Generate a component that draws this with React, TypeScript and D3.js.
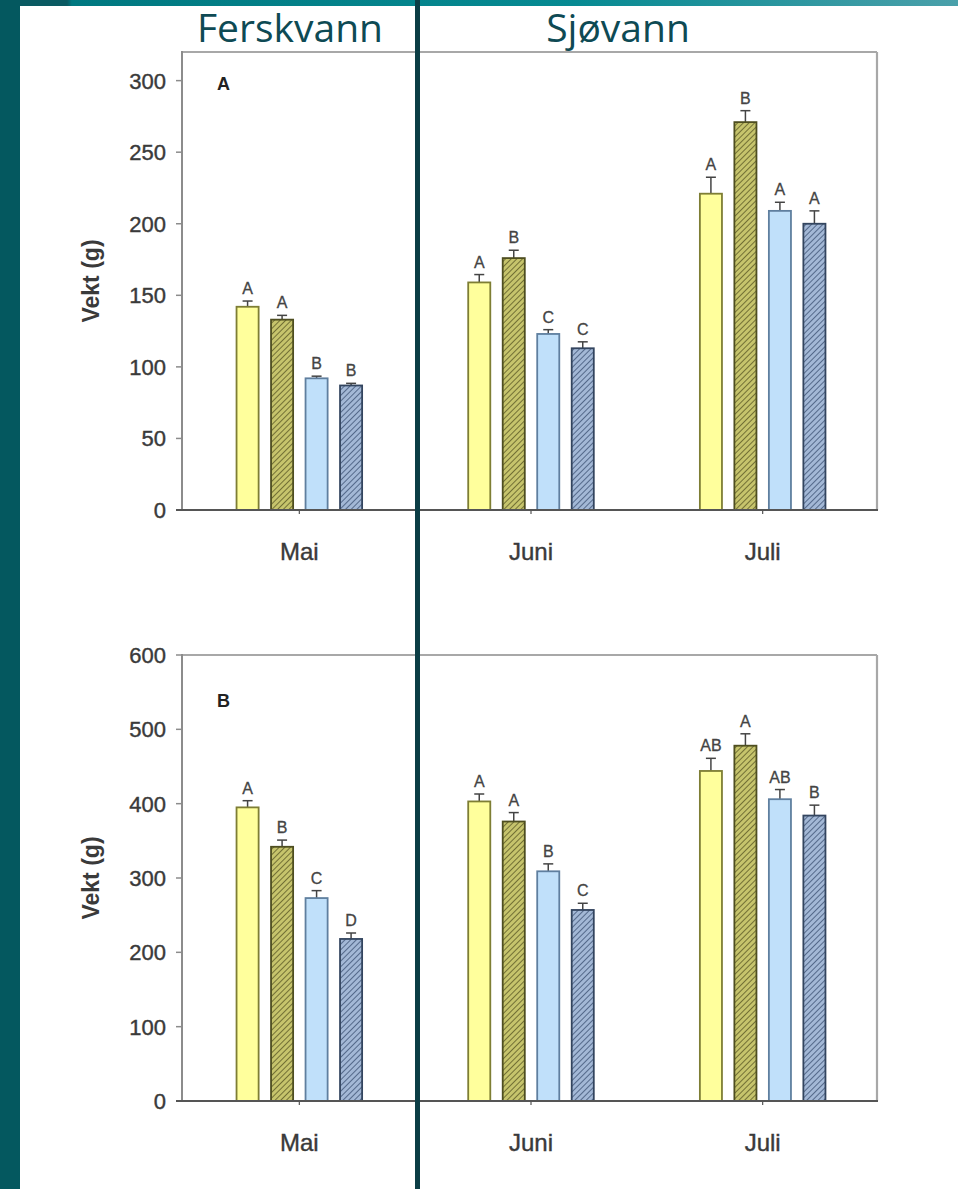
import React from "react";
import * as d3 from "d3";

const months = ["Mai", "Juni", "Juli"];
const seriesKeys = ["s1", "s2", "s3", "s4"];

// Panel A
const panelAValues = [
  [142, 133, 92, 87],
  [159, 176, 123, 113],
  [221, 271, 209, 200],
];
const panelAErrors = [
  [4, 3, 1.5, 1.5],
  [5.5, 5.5, 3, 4.5],
  [11.5, 8, 6, 9],
];
const panelALetters = [
  ["A", "A", "B", "B"],
  ["A", "B", "C", "C"],
  ["A", "B", "A", "A"],
];
const panelATicks = [0, 50, 100, 150, 200, 250, 300];

// Panel B
const panelBValues = [
  [395, 342, 273, 218],
  [403, 376, 309, 257],
  [444, 478, 406, 384],
];
const panelBErrors = [
  [9, 9, 10, 8],
  [10, 12, 10, 9],
  [17, 16, 13, 14],
];
const panelBLetters = [
  ["A", "B", "C", "D"],
  ["A", "A", "B", "C"],
  ["AB", "A", "AB", "B"],
];
const panelBTicks = [0, 100, 200, 300, 400, 500, 600];

const seriesFill = ["#ffff9c", "url(#hatchOlive)", "#c0e0fa", "url(#hatchBlue)"];
const seriesStroke = ["#7e7e34", "#4e4e20", "#5f7f9f", "#33455f"];

const W = 958;
const H = 1189;
const FONT = "Arial, 'Liberation Sans', Helvetica, sans-serif";

type PanelProps = {
  id: string;
  top: number;
  bottom: number;
  max: number;
  values: number[][];
  errors: number[][];
  letters: string[][];
  ticks: number[];
  letterY: number;
};

const left = 182;
const right = 877;

function Panel({ id, top, bottom, max, values, errors, letters, ticks, letterY }: PanelProps) {
  const x = d3.scaleBand<string>().domain(months).range([left + 1.5, right + 1.5]).padding(0);
  const y = d3.scaleLinear().domain([0, max]).range([bottom, top]);
  const inner = d3
    .scaleBand<string>()
    .domain(seriesKeys)
    .range([-69, 69])
    .paddingInner(0.36)
    .paddingOuter(0.18);
  const bw = inner.bandwidth();
  return (
    <g>
      {/* frame */}
      <line x1={left} x2={right} y1={top} y2={top} stroke="#a8a8a8" strokeWidth={2.2} />
      <line x1={right} x2={right} y1={top} y2={bottom} stroke="#a8a8a8" strokeWidth={2.2} />
      <line x1={left} x2={left} y1={top - 1} y2={bottom} stroke="#8c8c8c" strokeWidth={2} />
      {/* y ticks */}
      {ticks.map((t) => (
        <g key={t}>
          <line x1={left - 6} x2={left} y1={y(t)} y2={y(t)} stroke="#8c8c8c" strokeWidth={1.5} />
          <text
            x={166}
            y={y(t)}
            dy="0.36em"
            textAnchor="end"
            fontFamily={FONT}
            fontSize={22}
            fill="#3a3a3a"
            stroke="#3a3a3a"
            strokeWidth={0.4}
          >
            {t}
          </text>
        </g>
      ))}
      {/* y label */}
      <text
        transform={`translate(99,${(top + bottom) / 2}) rotate(-90)`}
        textAnchor="middle"
        fontFamily={FONT}
        fontSize={23}
        fontWeight="bold"
        fill="#3a3a3a"
      >
        Vekt (g)
      </text>
      {/* panel id */}
      <text x={217} y={letterY} fontFamily={FONT} fontSize={18} fontWeight="bold" fill="#222">
        {id}
      </text>
      {/* bars */}
      {months.map((m, mi) => {
        const cx = (x(m) as number) + x.bandwidth() / 2;
        return (
          <g key={m}>
            {seriesKeys.map((s, si) => {
              const v = values[mi][si];
              const e = errors[mi][si];
              const bx = cx + (inner(s) as number);
              const bcx = bx + bw / 2;
              const yt = y(v);
              const ye = y(v + e);
              return (
                <g key={s}>
                  <line x1={bcx} x2={bcx} y1={yt} y2={ye} stroke="#444" strokeWidth={1.5} />
                  <line x1={bcx - 5} x2={bcx + 5} y1={ye} y2={ye} stroke="#444" strokeWidth={1.5} />
                  <rect
                    x={bx}
                    y={yt}
                    width={bw}
                    height={bottom - yt}
                    fill={seriesFill[si]}
                    stroke={seriesStroke[si]}
                    strokeWidth={1.8}
                  />
                  <text
                    x={bcx}
                    y={ye - 7}
                    textAnchor="middle"
                    fontFamily={FONT}
                    fontSize={16}
                    fill="#444"
                    stroke="#444"
                    strokeWidth={0.3}
                  >
                    {letters[mi][si]}
                  </text>
                </g>
              );
            })}
            <line x1={cx} x2={cx} y1={bottom} y2={bottom + 4} stroke="#555" strokeWidth={1.2} />
            <text
              x={cx}
              y={bottom + 41}
              dy="0.36em"
              textAnchor="middle"
              fontFamily={FONT}
              fontSize={24}
              fill="#3a3a3a"
              stroke="#3a3a3a"
              strokeWidth={0.4}
            >
              {m}
            </text>
          </g>
        );
      })}
      {/* x axis */}
      <line x1={left - 6} x2={right + 1} y1={bottom} y2={bottom} stroke="#555" strokeWidth={2} />
    </g>
  );
}

export default function App() {
  return (
    <svg
      width={W}
      height={H}
      viewBox={`0 0 ${W} ${H}`}
      style={{ position: "absolute", left: 0, top: 0, display: "block", background: "#fff" }}
    >
      <defs>
        <linearGradient id="topBar" x1="0" x2="1" y1="0" y2="0">
          <stop offset="0" stopColor="#0a5a62" />
          <stop offset="0.07" stopColor="#0a5a62" />
          <stop offset="0.075" stopColor="#007880" />
          <stop offset="0.6" stopColor="#068a92" />
          <stop offset="1" stopColor="#4aa0aa" />
        </linearGradient>
        <pattern id="hatchOlive" patternUnits="userSpaceOnUse" width="4" height="4" patternTransform="rotate(45)">
          <rect width="4" height="4" fill="#c6c46c" />
          <line x1="0" y1="0" x2="0" y2="4" stroke="#5c5a26" strokeWidth="1.6" />
        </pattern>
        <pattern id="hatchBlue" patternUnits="userSpaceOnUse" width="4" height="4" patternTransform="rotate(45)">
          <rect width="4" height="4" fill="#a3b8d6" />
          <line x1="0" y1="0" x2="0" y2="4" stroke="#3f5577" strokeWidth="1.6" />
        </pattern>
      </defs>
      <rect x={0} y={0} width={W} height={H} fill="#ffffff" />
      <rect x={0} y={0} width={W} height={6} fill="url(#topBar)" />
      <rect x={0} y={0} width={20} height={H} fill="#04585f" />

      <Panel
        id="A"
        top={52}
        bottom={510}
        max={320}
        values={panelAValues}
        errors={panelAErrors}
        letters={panelALetters}
        ticks={panelATicks}
        letterY={90}
      />
      <Panel
        id="B"
        top={655}
        bottom={1101}
        max={600}
        values={panelBValues}
        errors={panelBErrors}
        letters={panelBLetters}
        ticks={panelBTicks}
        letterY={707}
      />

      {/* divider */}
      <rect x={415} y={0} width={5} height={H} fill="#0b3d45" />

      <text x={290} y={42} textAnchor="middle" fontFamily="'Open Sans', sans-serif" fontSize={39} fill="#0e4a54">
        Ferskvann
      </text>
      <text x={618} y={42} textAnchor="middle" fontFamily="'Open Sans', sans-serif" fontSize={39} fill="#0e4a54">
        Sjøvann
      </text>
    </svg>
  );
}
